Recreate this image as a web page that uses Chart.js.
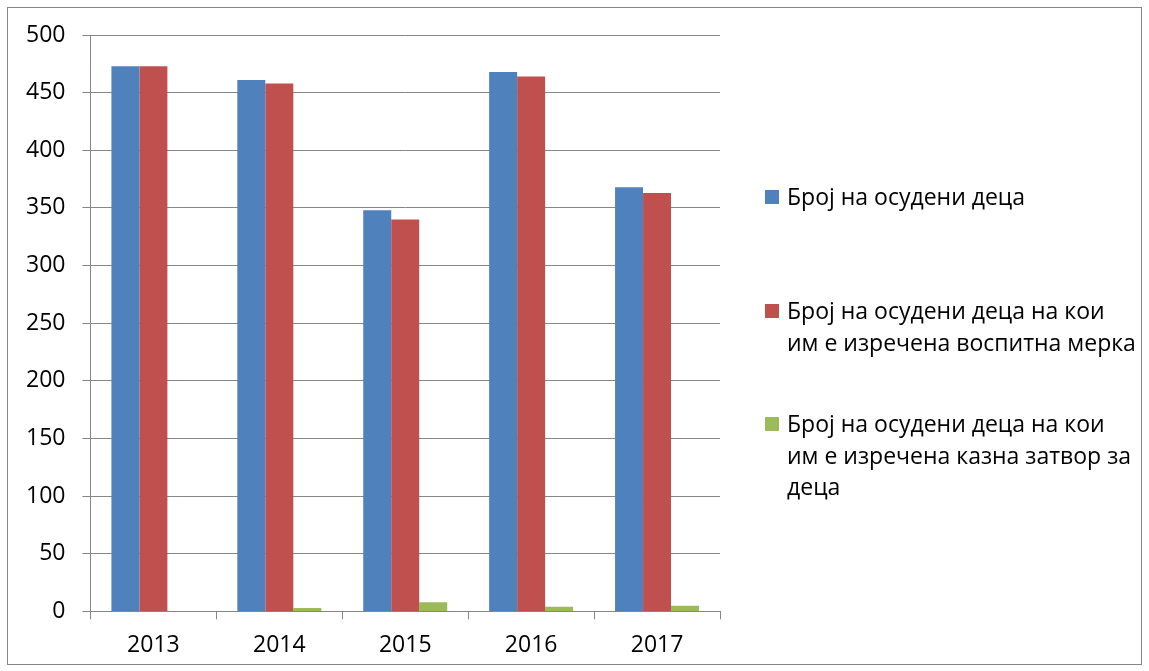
<!DOCTYPE html>
<html>
<head>
<meta charset="utf-8">
<script src="https://cdn.jsdelivr.net/npm/chart.js@4.4.0/dist/chart.umd.min.js"></script>
<style>
    html, body { margin: 0; padding: 0; background: #fff; }
    #wrap { position: relative; width: 1149px; height: 671px; }
    #frame {
        position: absolute; left: 7px; top: 7px; width: 1133px; height: 656px;
        border: 1px solid #868686; pointer-events: none;
    }
    #legend {
        position: absolute; left: 765px; top: 0; width: 380px;
        font-family: "Open Sans", "Noto Sans", sans-serif; font-size: 23px; color: #000;
        line-height: 31.5px;
    }
    .item { position: absolute; left: 0; white-space: nowrap; }
    .swatch { position: absolute; left: 0; top: 9px; width: 14px; height: 14px; }
    .txt { margin-left: 22px; }
</style>
</head>
<body>
<div id="wrap">
    <canvas id="chart" width="1149" height="671"></canvas>
    <div id="frame"></div>
    <div id="legend"></div>
</div>
<script>
// Years and values
const years = ['2013', '2014', '2015', '2016', '2017'];
const convicted = [473, 461, 348, 468, 368];
const educational = [473, 458, 340, 464, 363];
const prison = [0, 3, 8, 4, 5];

const seriesNames = [
    'Број на осудени деца',
    'Број на осудени деца на кои\nим е изречена воспитна мерка',
    'Број на осудени деца на кои\nим е изречена казна затвор за\nдеца'
];
const seriesColors = ['#4F81BD', '#C0504D', '#9BBB59'];
const legendTops = [181, 295, 408];

const yTicks = [0, 50, 100, 150, 200, 250, 300, 350, 400, 450, 500];

const axisFont = { family: '"Open Sans", "Noto Sans", sans-serif', size: 23 };

function buildLegend() {
    const box = document.getElementById('legend');
    seriesNames.forEach((name, i) => {
        const item = document.createElement('div');
        item.className = 'item';
        item.style.top = legendTops[i] + 'px';
        const sw = document.createElement('div');
        sw.className = 'swatch';
        sw.style.background = seriesColors[i];
        const t = document.createElement('div');
        t.className = 'txt';
        t.innerHTML = name.split('\n').join('<br>');
        item.appendChild(sw);
        item.appendChild(t);
        box.appendChild(item);
    });
}

function renderChart() {
    const ctx = document.getElementById('chart').getContext('2d');
    const values = [convicted, educational, prison];

    new Chart(ctx, {
        type: 'bar',
        data: {
            labels: years,
            datasets: values.map((data, i) => ({
                label: seriesNames[i],
                data: data,
                backgroundColor: seriesColors[i],
                borderWidth: 0,
                categoryPercentage: 0.667,
                barPercentage: 1.0
            }))
        },
        options: {
            responsive: false,
            animation: false,
            layout: { padding: { left: 9, right: 429, top: 35, bottom: 0 } },
            plugins: {
                legend: { display: false },
                tooltip: { enabled: false }
            },
            scales: {
                x: {
                    grid: {
                        display: true,
                        drawOnChartArea: false,
                        drawTicks: true,
                        tickLength: 8,
                        color: '#868686',
                        offset: true
                    },
                    border: { color: '#868686', width: 1 },
                    ticks: { color: '#000', font: axisFont, padding: 12 }
                },
                y: {
                    min: 0,
                    max: 500,
                    afterBuildTicks: (axis) => {
                        axis.ticks = yTicks.map(v => ({ value: v }));
                    },
                    grid: {
                        color: '#868686',
                        tickLength: 8,
                        lineWidth: 1
                    },
                    border: { color: '#868686', width: 1 },
                    ticks: { color: '#000', font: axisFont, padding: 17 }
                }
            }
        }
    });
}

buildLegend();
renderChart();
</script>
</body>
</html>
